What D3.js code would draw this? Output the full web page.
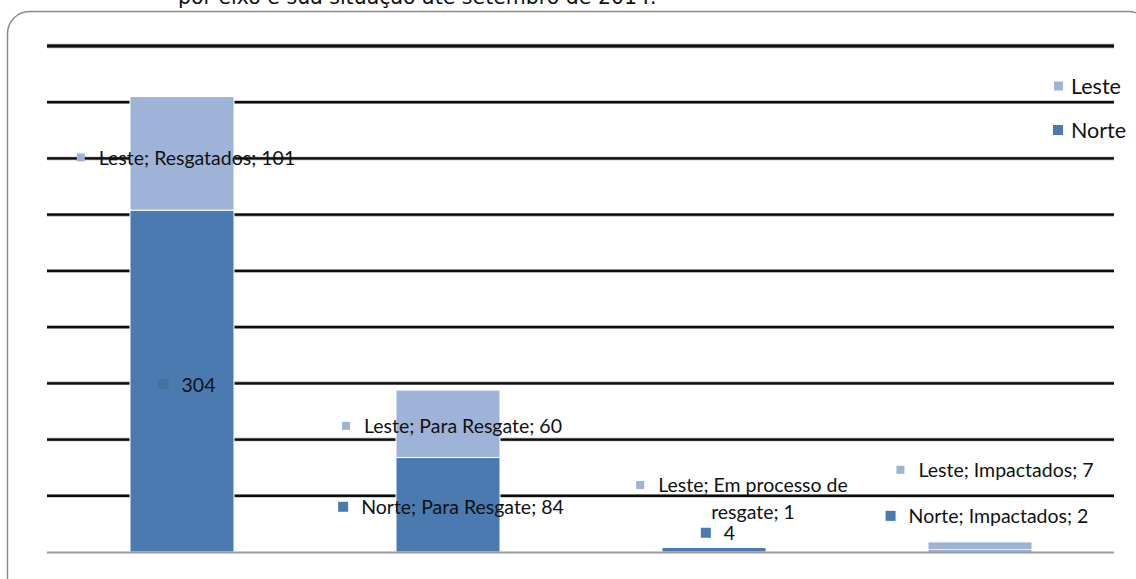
<!DOCTYPE html>
<html>
<head>
<meta charset="utf-8">
<script src="https://cdn.jsdelivr.net/npm/d3@7"></script>
<style>
  body { margin: 0; background: #fff; }
  svg { display: block; }
</style>
</head>
<body>
<div id="chart"></div>
<script>
// data
const categories = ["Resgatados", "Para Resgate", "Em processo de resgate", "Impactados"];
const norte = [304, 84, 4, 2];
const leste = [101, 60, 1, 7];
const seriesNames = ["Norte", "Leste"];

// label text as printed in the chart (lines per label)
const norteLabels = [["304"], ["Norte; Para Resgate; 84"], ["4"], ["Norte; Impactados; 2"]];
const lesteLabels = [["Leste; Resgatados; 101"], ["Leste; Para Resgate; 60"], ["Leste; Em processo de", "resgate; 1"], ["Leste; Impactados; 7"]];
// nudges (dx, dy) from the segment centre, like the hand-moved labels in the original
const norteNudge = [[5, 3], [3, 2], [4, -17], [7, -35]];
const lesteNudge = [[4, 4], [4, 2], [39, -62], [15, -76]];

const W = 1136, H = 579;
const colors = {Norte: "#4a7ab0", Leste: "#9fb3d9"};
const font = "Lato, 'Open Sans', sans-serif";

const svg = d3.select("#chart").append("svg")
    .attr("width", W)
    .attr("height", H);

// caption cut off at the top
svg.append("text")
    .attr("x", 178)
    .attr("y", 4)
    .style("font-family", "'DejaVu Sans', sans-serif")
    .style("font-size", "20.5px")
    .attr("fill", "#111")
    .text("por eixo e sua situação até setembro de 2014.");

// rounded frame
svg.append("rect")
    .attr("x", 7.5)
    .attr("y", 11.5)
    .attr("width", 1143)
    .attr("height", 600)
    .attr("rx", 22)
    .attr("fill", "none")
    .attr("stroke", "#8a8a8a")
    .attr("stroke-width", 1.5);

// scales
const x = d3.scaleBand()
    .domain(categories)
    .range([49, 1113])
    .paddingInner(0.609)
    .paddingOuter(0.3045);

const y = d3.scaleLinear()
    .domain([0, 450])
    .range([552, 46]);

// gridlines
const gx0 = 47, gx1 = 1114;
const ticks = y.ticks(10).filter(d => d > 0);
svg.append("g")
  .selectAll("line.shadow")
  .data(ticks)
  .join("line")
    .attr("x1", gx0).attr("x2", gx1)
    .attr("y1", d => y(d)).attr("y2", d => y(d))
    .attr("stroke", "#9a9a9a")
    .attr("stroke-width", d => d === 450 ? 4.5 : 3.5);
svg.append("g")
  .selectAll("line.grid")
  .data(ticks)
  .join("line")
    .attr("x1", gx0).attr("x2", gx1)
    .attr("y1", d => y(d)).attr("y2", d => y(d))
    .attr("stroke", "#0d0d0d")
    .attr("stroke-width", d => d === 450 ? 3 : 2.2);

// stacked bars
const table = categories.map((c, i) => ({cat: c, Norte: norte[i], Leste: leste[i]}));
const stacked = d3.stack().keys(seriesNames)(table);

svg.append("g")
  .selectAll("g")
  .data(stacked)
  .join("g")
    .attr("fill", d => colors[d.key])
  .selectAll("rect")
  .data(d => d)
  .join("rect")
    .attr("x", d => x(d.data.cat))
    .attr("width", x.bandwidth())
    .attr("y", d => y(d[1]))
    .attr("height", d => y(d[0]) - y(d[1]))
    .attr("stroke", "#fff")
    .attr("stroke-width", 1);

// baseline
svg.append("line")
    .attr("x1", gx0).attr("x2", gx1)
    .attr("y1", y(0) + 0.5).attr("y2", y(0) + 0.5)
    .attr("stroke", "#9a9a9a")
    .attr("stroke-width", 2);

// data labels
const labelSize = 19.5;
function addLabel(lines, cx, cy, color, msize, gap) {
  const g = svg.append("g");
  const t = g.append("text")
      .style("font-family", font)
      .style("font-size", labelSize + "px")
      .attr("fill", "#111")
      .attr("dominant-baseline", "central")
      .text(lines[0]);
  const w = t.node().getComputedTextLength();
  let tx, mx;
  if (lines.length === 1) {
    const total = msize + gap + w;
    mx = cx - total / 2;
    tx = mx + msize + gap;
    t.attr("x", tx).attr("y", cy);
  } else {
    t.attr("x", cx).attr("y", cy).attr("text-anchor", "middle");
    mx = cx - w / 2 - gap - msize;
    lines.slice(1).forEach((ln, k) => {
      g.append("text")
          .style("font-family", font)
          .style("font-size", labelSize + "px")
          .attr("fill", "#111")
          .attr("dominant-baseline", "central")
          .attr("text-anchor", "middle")
          .attr("x", cx)
          .attr("y", cy + 27 * (k + 1))
          .text(ln);
    });
  }
  g.insert("rect", "text")
      .attr("x", mx)
      .attr("y", cy - msize / 2)
      .attr("width", msize)
      .attr("height", msize)
      .attr("fill", color);
}

categories.forEach((c, i) => {
  const cx = x(c) + x.bandwidth() / 2;
  addLabel(norteLabels[i], cx + norteNudge[i][0], y(norte[i] / 2) + norteNudge[i][1],
    i === 0 ? "#45709f" : colors.Norte, 10, 13);
  addLabel(lesteLabels[i], cx + lesteNudge[i][0], y(norte[i] + leste[i] / 2) + lesteNudge[i][1],
    colors.Leste, 8, 14);
});

// legend
const legend = svg.append("g")
  .selectAll("g")
  .data(["Leste", "Norte"])
  .join("g")
    .attr("transform", (d, i) => `translate(1053, ${86 + i * 44})`);
legend.append("rect")
    .attr("x", d => d === "Leste" ? 1 : 0)
    .attr("y", d => d === "Leste" ? -4.5 : -5)
    .attr("width", d => d === "Leste" ? 9 : 10)
    .attr("height", d => d === "Leste" ? 9 : 10)
    .attr("fill", d => colors[d]);
legend.append("text")
    .attr("x", 18)
    .attr("y", 0)
    .attr("dominant-baseline", "central")
    .style("font-family", font)
    .style("font-size", "21.5px")
    .attr("fill", "#111")
    .text(d => d);
</script>
</body>
</html>
